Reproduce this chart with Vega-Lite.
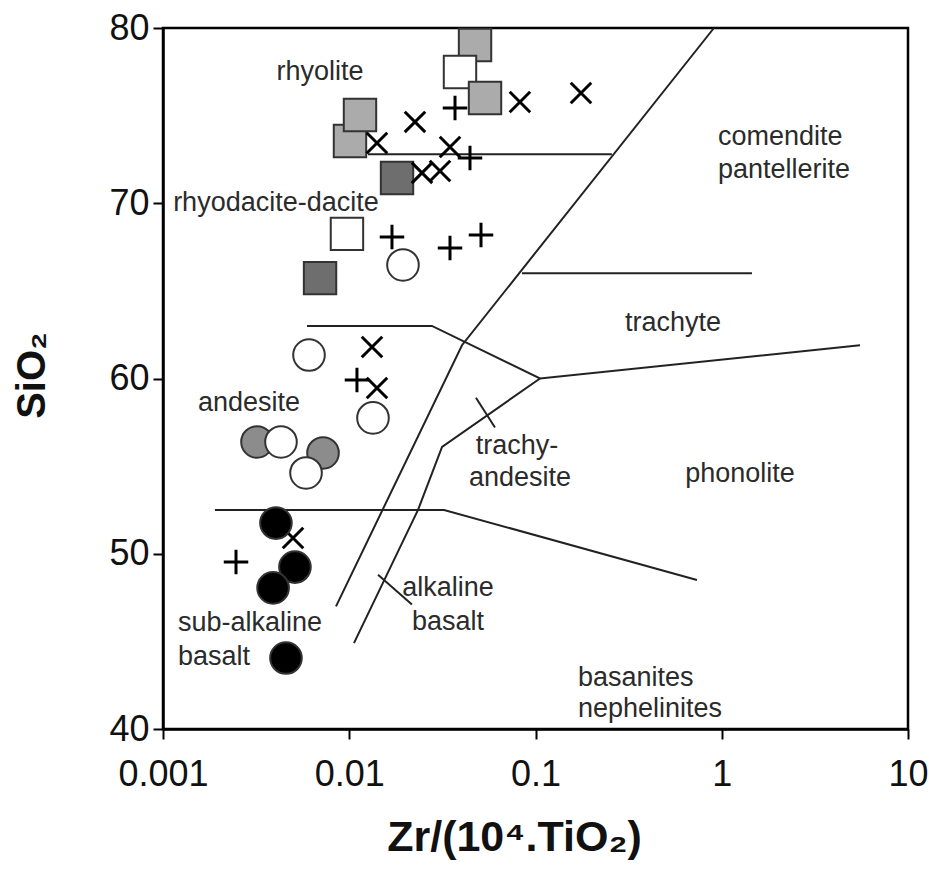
{
  "$schema": "https://vega.github.io/schema/vega-lite/v6.json",
  "width": 745,
  "height": 701,
  "autosize": "none",
  "padding": {"left": 163, "top": 28, "right": 21, "bottom": 144},
  "background": "white",
  "config": {
    "view": {"stroke": "black", "strokeWidth": 2.5},
    "font": "Liberation Sans",
    "axis": {
      "domainColor": "black",
      "domainWidth": 2.5,
      "tickColor": "black",
      "tickWidth": 2,
      "tickSize": 10,
      "grid": false,
      "labelColor": "#111",
      "labelFont": "Liberation Sans",
      "labelFontSize": 36,
      "titleColor": "#111",
      "titleFont": "Liberation Sans",
      "titleFontWeight": "bold"
    }
  },
  "datasets": {
    "lines": [
      {"seg": "A", "o": 1, "x": 0.0126, "y": 72.8}, {"seg": "A", "o": 2, "x": 0.257, "y": 72.8},
      {"seg": "B", "o": 1, "x": 0.00849, "y": 47.0}, {"seg": "B", "o": 2, "x": 0.0403, "y": 61.9}, {"seg": "B", "o": 3, "x": 0.908, "y": 80},
      {"seg": "C", "o": 1, "x": 0.0846, "y": 66.0}, {"seg": "C", "o": 2, "x": 1.453, "y": 66.0},
      {"seg": "D", "o": 1, "x": 0.00593, "y": 63.0}, {"seg": "D", "o": 2, "x": 0.0278, "y": 63.0}, {"seg": "D", "o": 3, "x": 0.1057, "y": 60.0}, {"seg": "D", "o": 4, "x": 5.525, "y": 61.9},
      {"seg": "E", "o": 1, "x": 0.1057, "y": 60.0}, {"seg": "E", "o": 2, "x": 0.0315, "y": 56.1}, {"seg": "E", "o": 3, "x": 0.0234, "y": 52.5}, {"seg": "E", "o": 4, "x": 0.0106, "y": 44.9},
      {"seg": "F", "o": 1, "x": 0.0019, "y": 52.5}, {"seg": "F", "o": 2, "x": 0.0323, "y": 52.5}, {"seg": "F", "o": 3, "x": 0.736, "y": 48.5},
      {"seg": "L1", "o": 1, "x": 0.0479, "y": 58.9}, {"seg": "L1", "o": 2, "x": 0.0606, "y": 57.2},
      {"seg": "L2", "o": 1, "x": 0.01427, "y": 48.8}, {"seg": "L2", "o": 2, "x": 0.0217, "y": 47.1}
    ],
    "squares": [
      {"x": 0.04735, "y": 79.03, "c": "#ababab"},
      {"x": 0.03932, "y": 77.49, "c": "#ffffff"},
      {"x": 0.05357, "y": 76.01, "c": "#ababab"},
      {"x": 0.01009, "y": 73.55, "c": "#ababab"},
      {"x": 0.01142, "y": 75.04, "c": "#ababab"},
      {"x": 0.01805, "y": 71.44, "c": "#6e6e6e"},
      {"x": 0.00972, "y": 68.25, "c": "#ffffff"},
      {"x": 0.00697, "y": 65.73, "c": "#6e6e6e"}
    ],
    "crosses": [
      {"x": 0.02254, "y": 74.64}, {"x": 0.0825, "y": 75.78}, {"x": 0.1755, "y": 76.29},
      {"x": 0.01409, "y": 73.44}, {"x": 0.03475, "y": 73.21}, {"x": 0.02458, "y": 71.73},
      {"x": 0.03071, "y": 71.84}, {"x": 0.01325, "y": 61.8}, {"x": 0.01409, "y": 59.46},
      {"x": 0.00499, "y": 50.9}
    ],
    "pluses": [
      {"x": 0.03697, "y": 75.44}, {"x": 0.04449, "y": 72.58}, {"x": 0.01696, "y": 68.07},
      {"x": 0.03475, "y": 67.45}, {"x": 0.05098, "y": 68.19}, {"x": 0.011, "y": 59.91},
      {"x": 0.002466, "y": 49.53}
    ],
    "circles": [
      {"x": 0.003197, "y": 56.38, "c": "#8c8c8c"},
      {"x": 0.0043, "y": 56.38, "c": "#ffffff"},
      {"x": 0.00723, "y": 55.75, "c": "#8c8c8c"},
      {"x": 0.00586, "y": 54.61, "c": "#ffffff"},
      {"x": 0.01943, "y": 66.48, "c": "#ffffff"},
      {"x": 0.00608, "y": 61.34, "c": "#ffffff"},
      {"x": 0.01341, "y": 57.75, "c": "#ffffff"},
      {"x": 0.00404, "y": 51.75, "c": "#000000"},
      {"x": 0.00511, "y": 49.24, "c": "#000000"},
      {"x": 0.0039, "y": 48.05, "c": "#000000"},
      {"x": 0.004574, "y": 44.05, "c": "#000000"}
    ],
    "labelsC": [
      {"x": 0.00697, "y": 77.49, "t": "rhyolite"},
      {"x": 0.00404, "y": 70.01, "t": "rhyodacite-dacite"},
      {"x": 0.5474, "y": 63.17, "t": "trachyte"},
      {"x": 0.002894, "y": 58.6, "t": "andesite"},
      {"x": 0.0796, "y": 56.15, "t": "trachy-"},
      {"x": 0.0825, "y": 54.32, "t": "andesite"},
      {"x": 1.253, "y": 54.55, "t": "phonolite"},
      {"x": 0.0339, "y": 48.05, "t": "alkaline"},
      {"x": 0.0339, "y": 46.11, "t": "basalt"}
    ],
    "labelsL": [
      {"x": 0.9548, "y": 73.78, "t": "comendite"},
      {"x": 0.9548, "y": 71.9, "t": "pantellerite"},
      {"x": 0.001204, "y": 46.05, "t": "sub-alkaline"},
      {"x": 0.001204, "y": 44.11, "t": "basalt"},
      {"x": 0.1691, "y": 42.91, "t": "basanites"},
      {"x": 0.1691, "y": 41.14, "t": "nephelinites"}
    ]
  },
  "encoding": {
    "x": {
      "field": "x", "type": "quantitative",
      "scale": {"type": "log", "domain": [0.001, 10], "nice": false},
      "axis": {
        "values": [0.001, 0.01, 0.1, 1, 10],
        "format": "~g",
        "labelFlush": false,
        "labelPadding": 18,
        "title": "Zr/(10⁴.TiO₂)",
        "titleFontSize": 43,
        "titleX": 351,
        "titleY": 108,
        "titleBaseline": "middle"
      }
    },
    "y": {
      "field": "y", "type": "quantitative",
      "scale": {"domain": [40, 80], "nice": false, "zero": false},
      "axis": {
        "values": [40, 50, 60, 70, 80],
        "labelPadding": 4,
        "title": "SiO₂",
        "titleFontSize": 40,
        "titleX": -131,
        "titleY": 347,
        "titleBaseline": "middle"
      }
    }
  },
  "layer": [
    {
      "data": {"name": "lines"},
      "mark": {"type": "line", "stroke": "#222", "strokeWidth": 2},
      "encoding": {
        "detail": {"field": "seg", "type": "nominal"},
        "order": {"field": "o", "type": "quantitative"}
      }
    },
    {
      "data": {"name": "squares"},
      "mark": {"type": "point", "shape": "square", "filled": true, "size": 1050, "stroke": "#333", "strokeWidth": 2, "opacity": 1},
      "encoding": {"fill": {"field": "c", "type": "nominal", "scale": null}}
    },
    {
      "data": {"name": "crosses"},
      "mark": {"type": "point", "shape": "M-1,-1L1,1M1,-1L-1,1", "filled": false, "size": 420, "stroke": "black", "strokeWidth": 3, "opacity": 1}
    },
    {
      "data": {"name": "pluses"},
      "mark": {"type": "point", "shape": "M-1,0L1,0M0,-1L0,1", "filled": false, "size": 600, "stroke": "black", "strokeWidth": 3, "opacity": 1}
    },
    {
      "data": {"name": "circles"},
      "mark": {"type": "point", "shape": "circle", "filled": true, "size": 1000, "stroke": "#333", "strokeWidth": 2, "opacity": 1},
      "encoding": {"fill": {"field": "c", "type": "nominal", "scale": null}}
    },
    {
      "data": {"name": "labelsC"},
      "mark": {"type": "text", "align": "center", "baseline": "middle", "fontSize": 27, "fill": "#2b2b2b", "font": "Liberation Sans"},
      "encoding": {"text": {"field": "t", "type": "nominal"}}
    },
    {
      "data": {"name": "labelsL"},
      "mark": {"type": "text", "align": "left", "baseline": "middle", "fontSize": 27, "fill": "#2b2b2b", "font": "Liberation Sans"},
      "encoding": {"text": {"field": "t", "type": "nominal"}}
    }
  ]
}
